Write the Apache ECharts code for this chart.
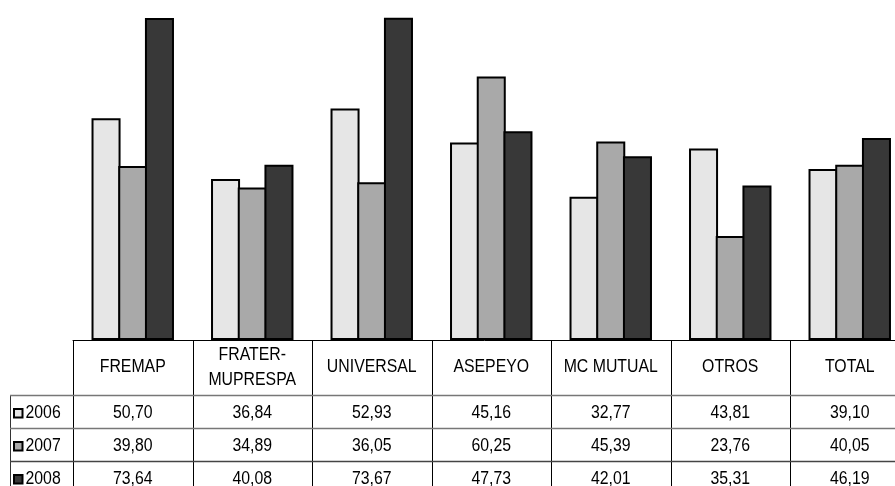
<!DOCTYPE html>
<html>
<head>
<meta charset="utf-8">
<script src="https://cdn.jsdelivr.net/npm/echarts@6/dist/echarts.min.js"></script>
<style>
html,body{margin:0;padding:0;background:#fff;}
#c{width:895px;height:486px;}
</style>
</head>
<body>
<div id="c"></div>
<script>
const categories = ['FREMAP', 'FRATER-\nMUPRESPA', 'UNIVERSAL', 'ASEPEYO', 'MC MUTUAL', 'OTROS', 'TOTAL'];
const seriesNames = ['2006', '2007', '2008'];
const v2006 = [50.70, 36.84, 52.93, 45.16, 32.77, 43.81, 39.10];
const v2007 = [39.80, 34.89, 36.05, 60.25, 45.39, 23.76, 40.05];
const v2008 = [73.64, 40.08, 73.67, 47.73, 42.01, 35.31, 46.19];
const colors = ['#e6e6e6', '#a9a9a9', '#383838'];
const values = [v2006, v2007, v2008];

const FONT = '18px "Liberation Sans", Arial, sans-serif';
const SX = 0.88;
const gridLeft = 73, gridTop = 12, gridHeight = 328, bandW = 119.5;

const chart = echarts.init(document.getElementById('c'), null, {renderer: 'canvas'});
chart.setOption({
  animation: false,
  backgroundColor: '#fff',
  grid: {left: gridLeft, top: gridTop, width: bandW * categories.length, height: gridHeight,
         containLabel: false, outerBoundsMode: 'none'},
  xAxis: {
    type: 'category', data: categories,
    axisLine: {show: true, lineStyle: {color: '#000', width: 1}},
    axisTick: {show: false}, axisLabel: {show: false}
  },
  yAxis: {type: 'value', min: 0, max: 75, show: false, splitLine: {show: false}},
  series: seriesNames.map((n, i) => ({
    name: n, type: 'bar', data: values[i],
    barGap: '-8%', barCategoryGap: '31%',
    itemStyle: {color: colors[i], borderColor: '#000', borderWidth: 2}
  }))
});

// Build data table below the axis, aligned with the category axis
const base = chart.convertToPixel({yAxisIndex: 0}, 0);
const headerH = 55, rowH = 33;
const rowTops = [base + headerH, base + headerH + rowH, base + headerH + 2 * rowH];
const centers = categories.map((c, i) => chart.convertToPixel({xAxisIndex: 0}, i));
const half = (centers[1] - centers[0]) / 2;
const leftEdge = centers[0] - half;
const rightEdge = centers[centers.length - 1] + half;
const tableLeft = 10;
const bottom = base + headerH + 3 * rowH + 5;

const els = [];
function line(x1, y1, x2, y2, stroke, w) {
  els.push({type: 'line', silent: true, shape: {x1, y1, x2, y2}, style: {stroke, lineWidth: w}});
}
function text(t, x, y, align) {
  els.push({type: 'text', silent: true, x: x, y: y, scaleX: SX,
    style: {text: t, x: 0, y: 0, font: FONT, fill: '#000',
    textAlign: align, textVerticalAlign: 'middle', align: align, verticalAlign: 'middle', lineHeight: 25}});
}
// vertical lines
for (let i = 0; i <= categories.length; i++) {
  const x = Math.round(leftEdge + i * 2 * half) + 0.5;
  line(x, base, x, bottom, '#000', 1);
}
line(tableLeft + 0.5, rowTops[0], tableLeft + 0.5, bottom, '#333', 1);
// horizontal lines
rowTops.forEach((y, i) => line(tableLeft, Math.round(y) + 0.5, rightEdge, Math.round(y) + 0.5, i === 2 ? '#444' : '#777', 1.5));
// header
categories.forEach((c, i) => text(c, centers[i], base + headerH / 2, 'center'));
// rows
values.forEach((arr, r) => {
  const cy = rowTops[r] + rowH / 2 + 1.5;
  arr.forEach((v, i) => text(v.toFixed(2).replace('.', ','), centers[i], cy, 'center'));
  els.push({type: 'rect', silent: true, shape: {x: 14, y: Math.round(cy) - 4, width: 8.5, height: 8.5},
    style: {fill: colors[r], stroke: '#000', lineWidth: 2}});
  text(seriesNames[r], 25.5, cy, 'left');
});
chart.setOption({graphic: {elements: els}});
</script>
</body>
</html>
